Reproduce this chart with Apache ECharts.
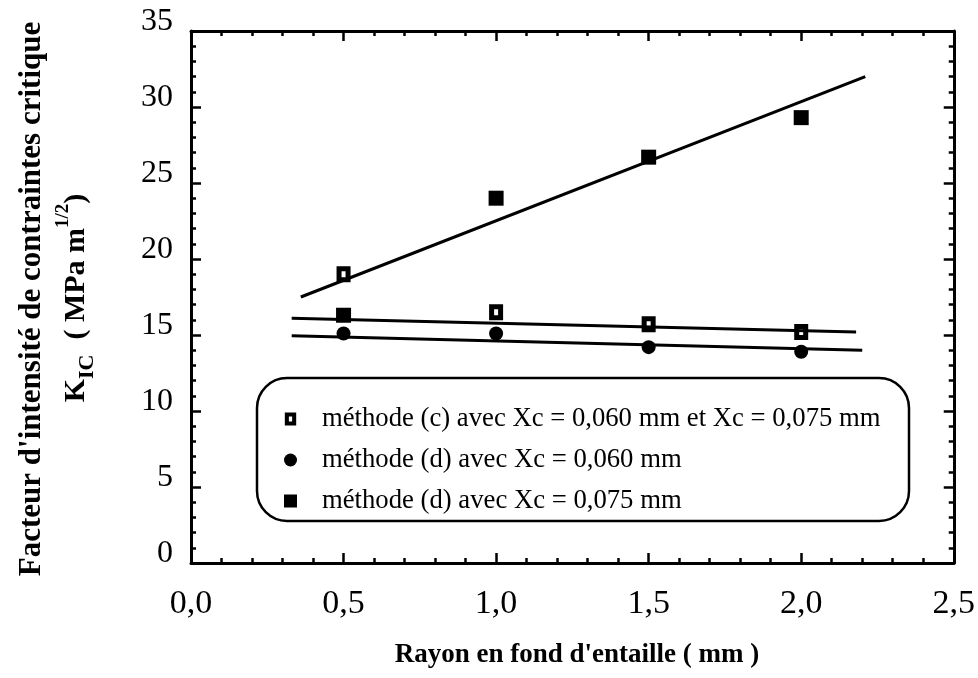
<!DOCTYPE html>
<html><head><meta charset="utf-8">
<script src="https://cdn.jsdelivr.net/npm/echarts@6/dist/echarts.min.js"></script>
<style>html,body{margin:0;padding:0;background:#fff}#c{width:978px;height:678px}</style>
</head><body><div id="c"></div>
<script>
// ---- data ----
const radius = [0.5, 1.0, 1.5, 2.0];                 // Rayon en fond d'entaille (mm)
const kicMethodC = [19.0, 16.5, 15.7, 15.2];          // méthode (c)
const kicMethodD060 = [15.1, 15.1, 14.2, 13.9];       // méthode (d) Xc = 0,060
const kicMethodD075 = [16.3, 24.0, 26.7, 29.3];       // méthode (d) Xc = 0,075
const fitUpperX = [0.36, 2.21];  const fitUpperY = [17.5, 32.0];
const fitMiddleX = [0.33, 2.18]; const fitMiddleY = [16.1, 15.2];
const fitLowerX = [0.33, 2.2];  const fitLowerY = [14.95, 14.0];
const seriesNames = [
  'méthode (c) avec Xc = 0,060 mm et Xc = 0,075 mm',
  'méthode (d) avec Xc = 0,060 mm',
  'méthode (d) avec Xc = 0,075 mm'
];
const xTitle = "Rayon en fond d'entaille ( mm )";
const yTitle1 = "Facteur d'intensité de contraintes critique";

const FONT = 'Liberation Serif';
const zip = (xs, ys) => xs.map((x, i) => [x, ys[i]]);
const holeSquare = 'path://M0,0H14V16H0Z M5,5V11H9V5Z';

function axisCommon(extra) {
  return Object.assign({
    type: 'value',
    axisLine: { show: true, onZero: false, lineStyle: { color: '#000', width: 3 } },
    axisTick: { show: true, inside: true, length: 10, lineStyle: { color: '#000', width: 2.5 } },
    minorTick: { show: true, splitNumber: 5, length: 5, lineStyle: { color: '#000', width: 2.5 } },
    splitLine: { show: false },
    minorSplitLine: { show: false }
  }, extra);
}

const chart = echarts.init(document.getElementById('c'), null, { renderer: 'canvas' });
chart.setOption({
  animation: false,
  backgroundColor: '#fff',
  grid: { left: 191, right: 15, top: 31, bottom: 115 },
  xAxis: [
    axisCommon({ position: 'bottom', min: 0, max: 2.5, interval: 0.5,
      axisLabel: { color: '#000', fontFamily: FONT, fontSize: 34, margin: 24,
        formatter: v => v.toFixed(1).replace('.', ',') } }),
    axisCommon({ position: 'top', min: 0, max: 2.5, interval: 0.5, axisLabel: { show: false } })
  ],
  yAxis: [
    axisCommon({ position: 'left', min: 0, max: 35, interval: 5,
      axisLabel: { color: '#000', fontFamily: FONT, fontSize: 32, margin: 18,
        verticalAlign: 'bottom', lineHeight: 18 } }),
    axisCommon({ position: 'right', min: 0, max: 35, interval: 5, axisLabel: { show: false } })
  ],
  legend: {
    orient: 'vertical', left: 279, top: 399, itemWidth: 13, itemHeight: 13, itemGap: 11,
    data: seriesNames,
    textStyle: { color: '#000', fontFamily: FONT, fontSize: 26.7, lineHeight: 30, padding: [0, 0, 0, 20] }
  },
  graphic: [
    { type: 'rect', z: 1, shape: { x: 257, y: 378, width: 652, height: 143, r: 30 },
      style: { fill: 'none', stroke: '#000', lineWidth: 2.5 } },
    { type: 'text', x: 32, y: 299, rotation: Math.PI / 2,
      style: { text: yTitle1, fill: '#000', font: 'bold 31px "Liberation Serif"', align: 'center', verticalAlign: 'middle' } },
    { type: 'text', x: 76, y: 298, rotation: Math.PI / 2,
      style: {
        text: '{k|K}{s|IC}{n|  ( MPa m}{p|1/2}{n|)}',
        align: 'center', verticalAlign: 'middle', fill: '#000',
        rich: {
          k: { fontFamily: FONT, fontWeight: 'bold', fontSize: 30, lineHeight: 44, verticalAlign: 'middle', fill: '#000' },
          n: { fontFamily: FONT, fontWeight: 'bold', fontSize: 30, lineHeight: 44, verticalAlign: 'middle', fill: '#000' },
          s: { fontFamily: FONT, fontWeight: 'bold', fontSize: 22, lineHeight: 24, verticalAlign: 'bottom', fill: '#000' },
          p: { fontFamily: FONT, fontWeight: 'bold', fontSize: 19, lineHeight: 34, verticalAlign: 'top', fill: '#000' }
        }
      } },
    { type: 'text', x: 577, y: 655,
      style: { text: xTitle, fill: '#000', font: 'bold 27px "Liberation Serif"', align: 'center', verticalAlign: 'middle' } }
  ],
  series: [
    { type: 'line', data: zip(fitUpperX, fitUpperY), symbol: 'none', silent: true, z: 2,
      lineStyle: { color: '#000', width: 3 } },
    { type: 'line', data: zip(fitMiddleX, fitMiddleY), symbol: 'none', silent: true, z: 2,
      lineStyle: { color: '#000', width: 3 } },
    { type: 'line', data: zip(fitLowerX, fitLowerY), symbol: 'none', silent: true, z: 2,
      lineStyle: { color: '#000', width: 3 } },
    { name: seriesNames[0], type: 'scatter', z: 3, symbol: holeSquare, symbolSize: [14, 16],
      itemStyle: { color: '#000', opacity: 1 }, data: zip(radius, kicMethodC) },
    { name: seriesNames[1], type: 'scatter', z: 3, symbol: 'circle', symbolSize: 14,
      itemStyle: { color: '#000', opacity: 1 }, data: zip(radius, kicMethodD060) },
    { name: seriesNames[2], type: 'scatter', z: 3, symbol: 'rect', symbolSize: 15,
      itemStyle: { color: '#000', opacity: 1 }, data: zip(radius, kicMethodD075) }
  ]
});
</script>
</body></html>
